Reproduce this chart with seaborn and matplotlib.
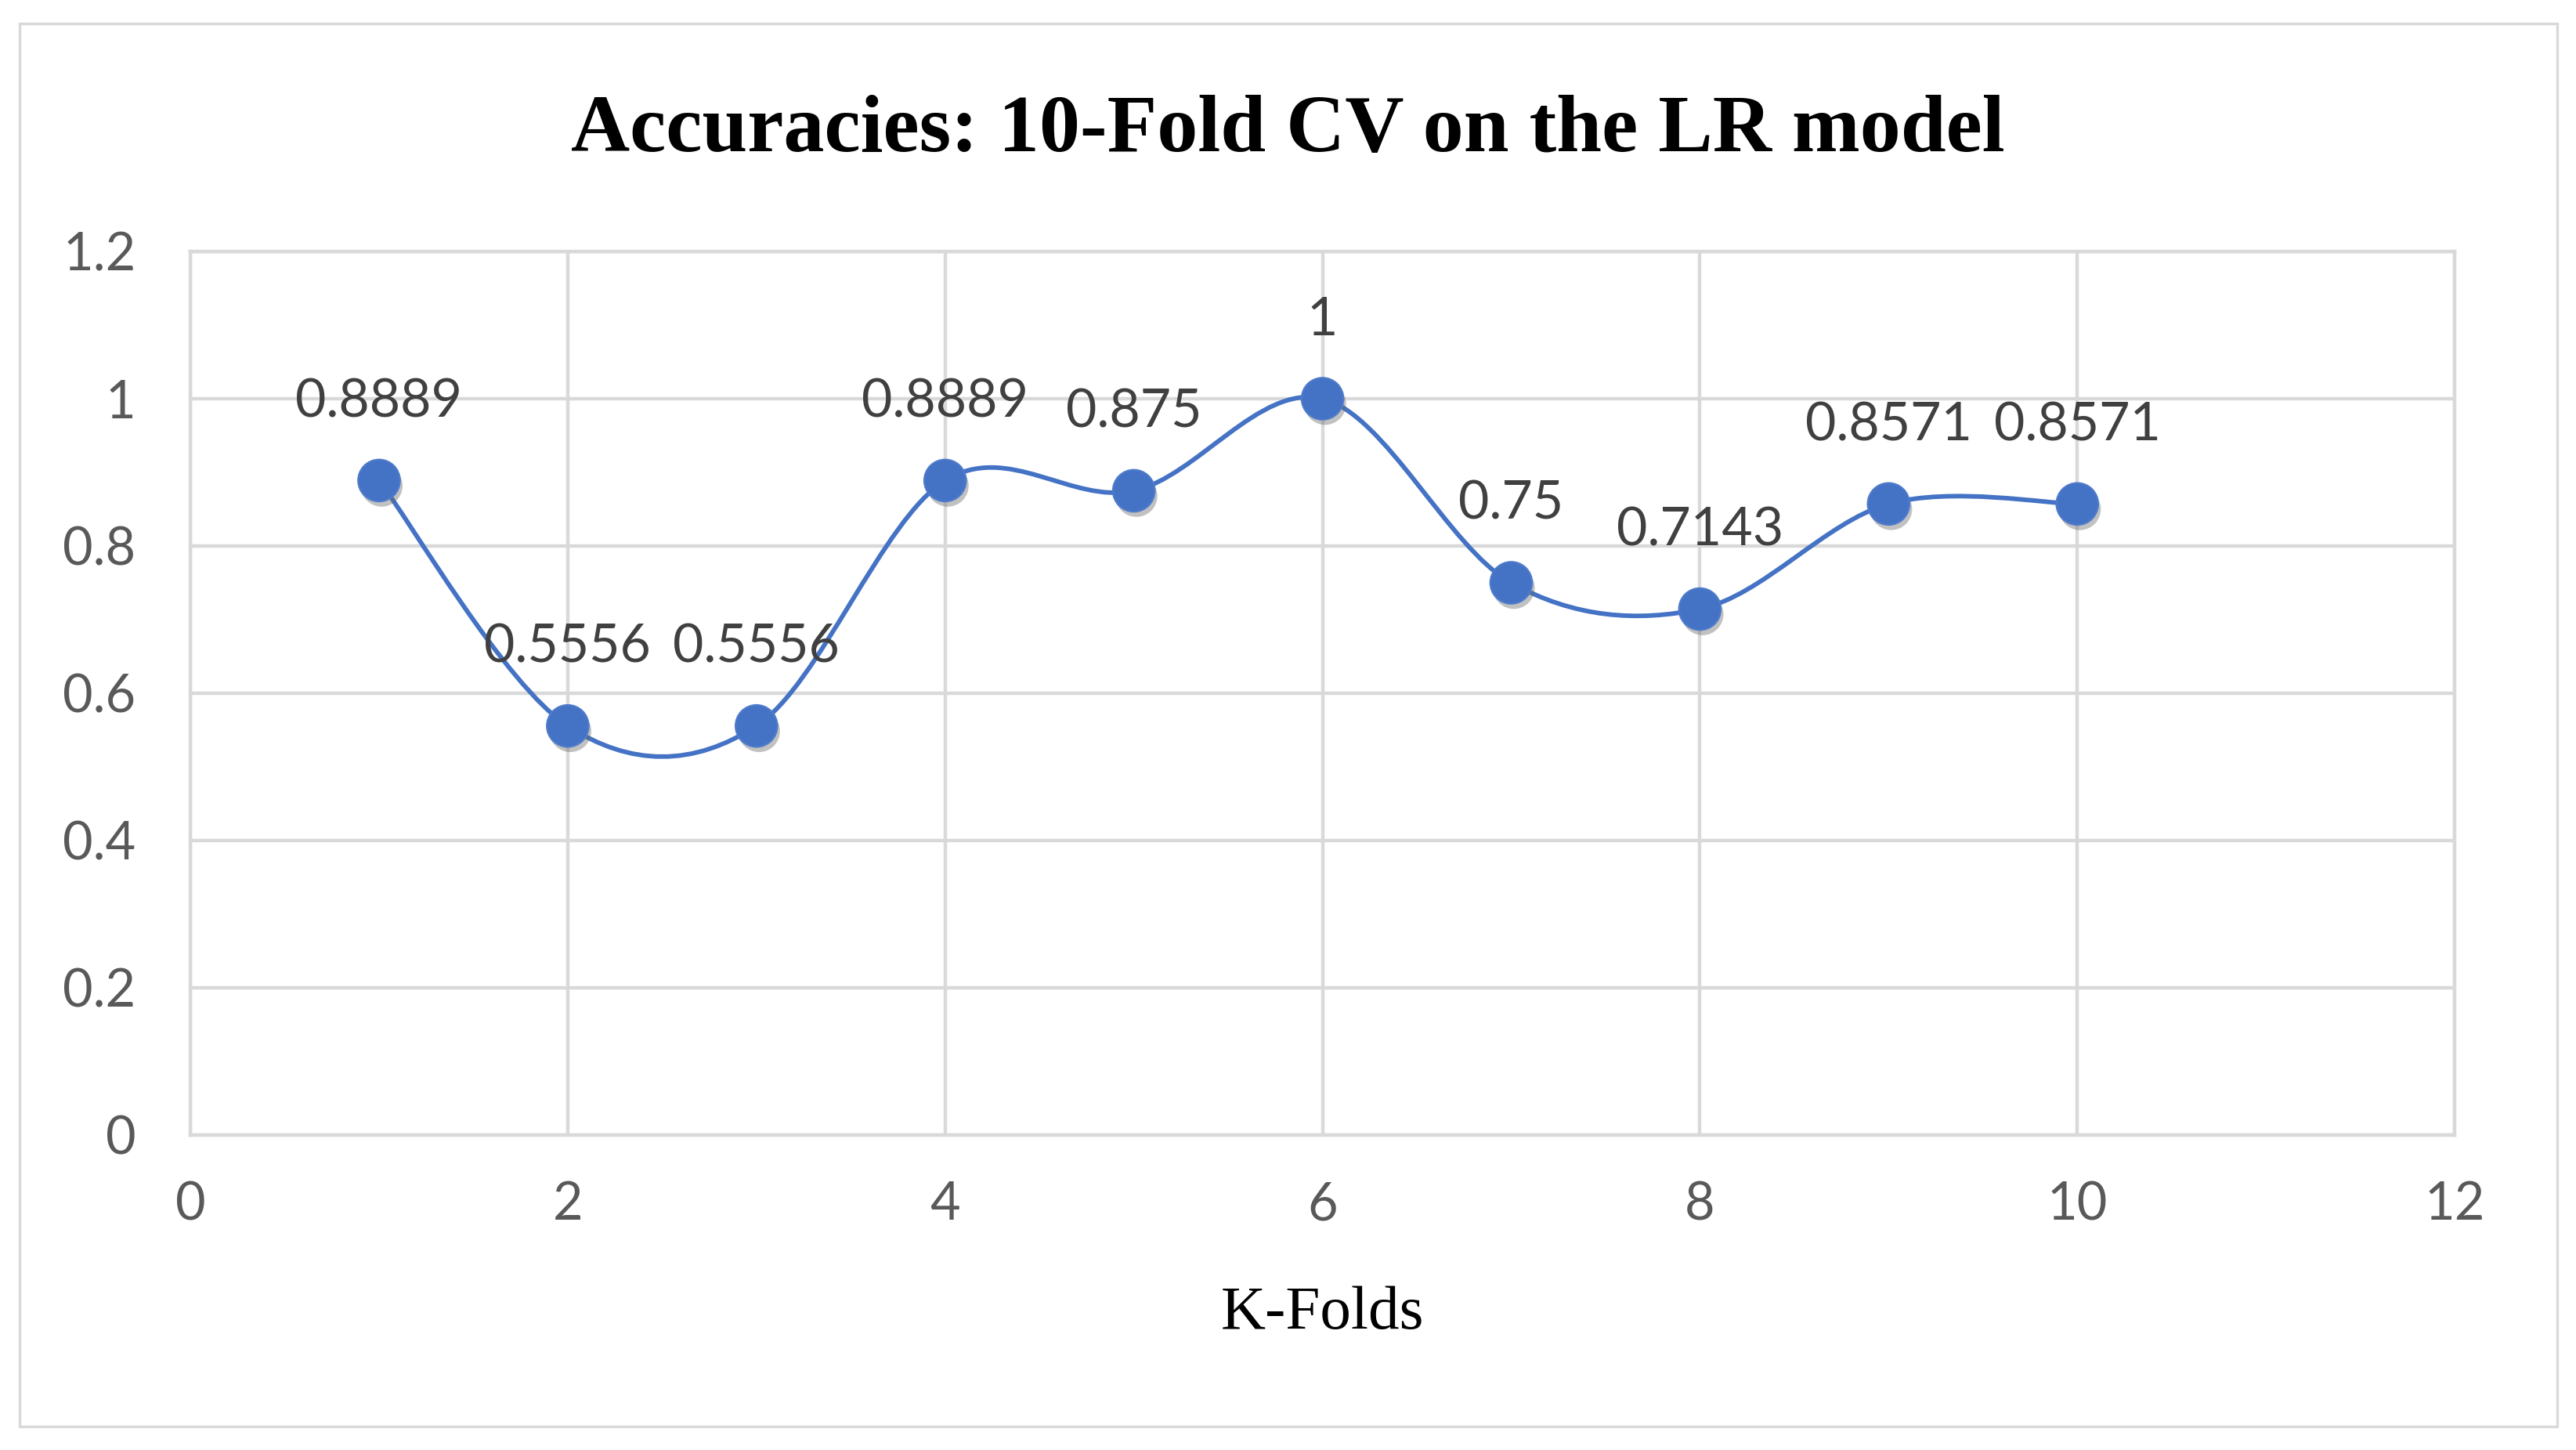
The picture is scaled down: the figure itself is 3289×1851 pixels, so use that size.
import numpy as np
import pandas as pd
import matplotlib
matplotlib.use("Agg")
import matplotlib.pyplot as plt
import matplotlib.patheffects as pe
from matplotlib.path import Path
from matplotlib.patches import PathPatch, Rectangle
import seaborn as sns

folds = [1, 2, 3, 4, 5, 6, 7, 8, 9, 10]
accuracy = [0.8889, 0.5556, 0.5556, 0.8889, 0.875, 1, 0.75, 0.7143, 0.8571, 0.8571]
labels = ["0.8889", "0.5556", "0.5556", "0.8889", "0.875", "1", "0.75", "0.7143", "0.8571", "0.8571"]
x_ticks = [0, 2, 4, 6, 8, 10, 12]
y_ticks = [0, 0.2, 0.4, 0.6, 0.8, 1, 1.2]
y_ticklabels = ["0", "0.2", "0.4", "0.6", "0.8", "1", "1.2"]

df = pd.DataFrame({"fold": folds, "acc": accuracy})

blue = "#4472C4"
grid = "#D9D9D9"

sns.set_theme(style="white")
plt.rcParams["font.family"] = ["Lato", "DejaVu Sans"]

fig = plt.figure(figsize=(16.445, 9.255), dpi=200)
ax = fig.add_axes([0.0739, 0.2172, 0.879, 0.6094])

# outer chart border
fig.patches.append(Rectangle((0.0076, 0.0162), 0.985, 0.9676, transform=fig.transFigure,
                             fill=False, edgecolor=grid, linewidth=1.2))

# smoothed line (cubic bezier through the points, like Excel)
pts = df[["fold", "acc"]].to_numpy(dtype=float)
verts = [pts[0]]
codes = [Path.MOVETO]
n = len(pts)
for i in range(n - 1):
    p_prev = pts[i - 1] if i > 0 else pts[i]
    p_next = pts[i + 2] if i + 2 < n else pts[i + 1]
    c1 = pts[i] + (pts[i + 1] - p_prev) / 6
    c2 = pts[i + 1] - (p_next - pts[i]) / 6
    verts += [c1, c2, pts[i + 1]]
    codes += [Path.CURVE4] * 3
ax.add_patch(PathPatch(Path(verts, codes), facecolor="none", edgecolor=blue,
                       linewidth=2.1, zorder=3))

sns.scatterplot(data=df, x="fold", y="acc", ax=ax, s=370, color=blue,
                edgecolor="#4F7BCB", linewidth=0.8, zorder=4,
                path_effects=[pe.SimplePatchShadow(offset=(1.2, -2.4), shadow_rgbFace="#666666", alpha=0.4),
                              pe.Normal()])

for xv, yv, lab in zip(folds, accuracy, labels):
    ax.annotate(lab, (xv, yv), xytext=(0, 36), textcoords="offset points",
                ha="center", va="center", fontsize=24.5, color="#404040", zorder=5)

ax.set_xlim(0, 12)
ax.set_ylim(0, 1.2)
ax.set_xticks(x_ticks)
ax.set_yticks(y_ticks)
ax.set_yticklabels(y_ticklabels)
ax.grid(True, color=grid, linewidth=1.6)
ax.set_axisbelow(True)
for s in ax.spines.values():
    s.set_color(grid)
    s.set_linewidth(1.6)
ax.tick_params(axis="both", length=0, labelsize=24, labelcolor="#595959")
ax.tick_params(axis="y", pad=25)
ax.tick_params(axis="x", pad=21)

ax.set_xlabel("K-Folds", family=["Liberation Serif", "DejaVu Serif"], fontsize=28.5,
              color="#000000", labelpad=26)
ax.set_ylabel("")

fig.text(0.5, 0.909, "Accuracies: 10-Fold CV on the LR model", ha="center", va="center",
         family=["Liberation Serif", "DejaVu Serif"], fontweight="bold", fontsize=37.5, color="#000000")

fig.savefig("out.png", dpi=200, facecolor="white")
